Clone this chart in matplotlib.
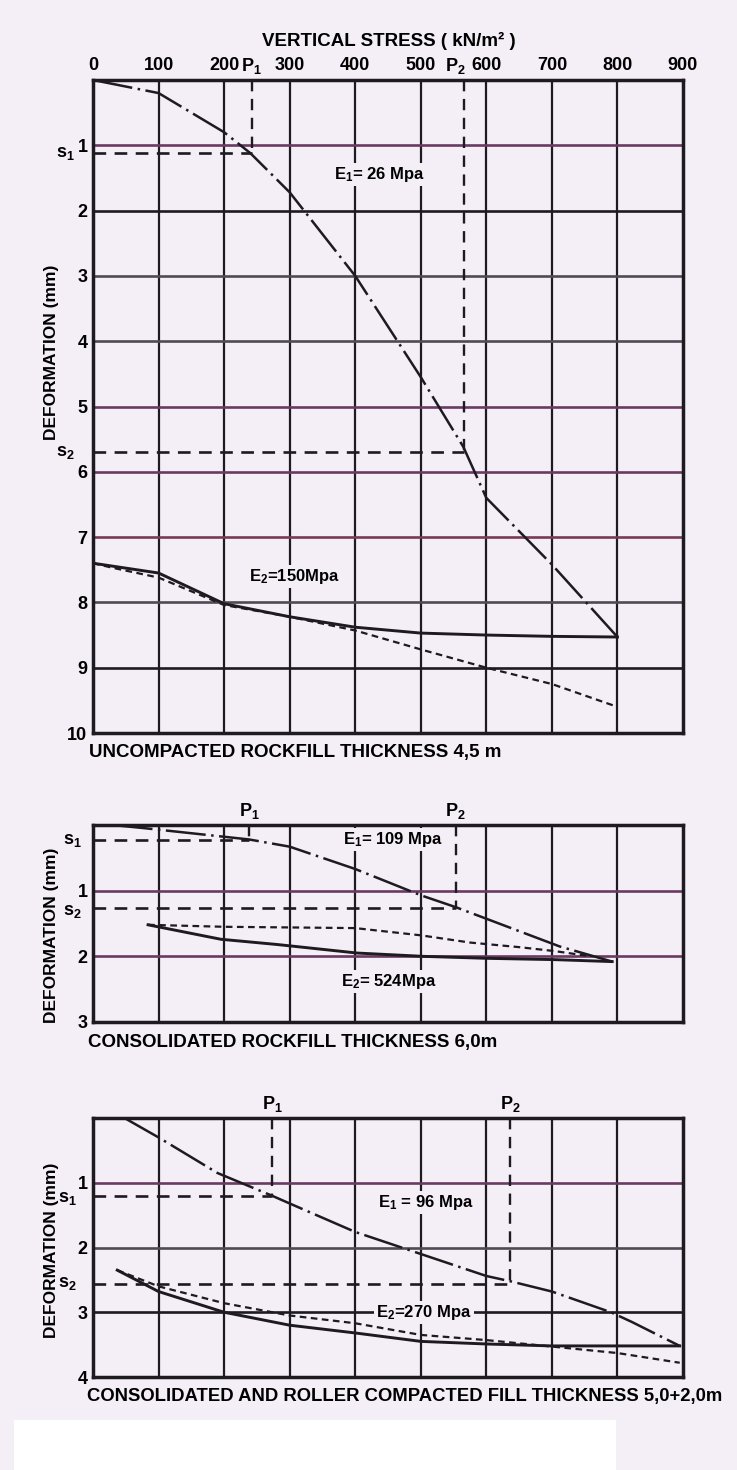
import matplotlib.pyplot as plt
from matplotlib.patches import Rectangle

plt.rcParams['font.family'] = ['Liberation Sans', 'DejaVu Sans']
plt.rcParams['font.weight'] = 'bold'
plt.rcParams['mathtext.fontset'] = 'custom'
plt.rcParams['mathtext.rm'] = 'Liberation Sans:bold'
plt.rcParams['mathtext.it'] = 'Liberation Sans:bold'
plt.rcParams['mathtext.bf'] = 'Liberation Sans:bold'

BG = '#f4eef6'
INK = '#1d1a20'
PURPLE = '#6a3a63'
GREY = '#4f4a55'

stress_ticks = [0, 100, 200, 300, 400, 500, 600, 700, 800, 900]

# --- uncompacted rockfill 4.5 m ---
a_load_x = [0, 100, 200, 240, 300, 400, 500, 565, 600, 700, 800]
a_load_y = [0, 0.2, 0.8, 1.12, 1.72, 3.0, 4.55, 5.62, 6.4, 7.42, 8.53]
a_unload_x = [0, 100, 200, 300, 400, 500, 600, 700, 800]
a_unload_y = [7.4, 7.55, 8.02, 8.22, 8.38, 8.47, 8.5, 8.52, 8.53]
a_reload_x = [0, 30, 100, 200, 300, 400, 500, 600, 700, 800]
a_reload_y = [7.4, 7.47, 7.62, 8.04, 8.22, 8.43, 8.72, 9.0, 9.25, 9.6]
a_p1, a_p2 = 242, 566
a_s1, a_s2 = 1.12, 5.70

# --- consolidated rockfill 6.0 m ---
b_load_x = [30, 80, 238, 300, 400, 500, 553, 712, 792]
b_load_y = [0.0, 0.05, 0.22, 0.33, 0.67, 1.07, 1.25, 1.85, 2.08]
b_unload_x = [84, 195, 281, 403, 503, 600, 704, 792]
b_unload_y = [1.52, 1.74, 1.82, 1.95, 2.0, 2.03, 2.05, 2.08]
b_reload_x = [84, 200, 300, 400, 500, 575, 650, 704, 760]
b_reload_y = [1.52, 1.55, 1.56, 1.57, 1.68, 1.79, 1.86, 1.92, 2.0]
b_p1, b_p2 = 238, 553
b_s1, b_s2 = 0.23, 1.27

# --- consolidated and roller compacted 5.0 + 2.0 m ---
c_load_x = [48, 100, 190, 273, 300, 400, 500, 600, 636, 700, 790, 822, 895]
c_load_y = [0.0, 0.3, 0.85, 1.2, 1.32, 1.76, 2.1, 2.44, 2.52, 2.68, 3.0, 3.15, 3.52]
c_unload_x = [37, 100, 200, 300, 400, 500, 600, 700, 800, 895]
c_unload_y = [2.35, 2.68, 3.0, 3.2, 3.32, 3.45, 3.49, 3.52, 3.52, 3.52]
c_reload_x = [37, 100, 200, 300, 400, 500, 600, 700, 800, 895]
c_reload_y = [2.35, 2.6, 2.86, 3.05, 3.17, 3.35, 3.43, 3.53, 3.63, 3.78]
c_p1, c_p2 = 273, 636
c_s1, c_s2 = 1.2, 2.56

W, H = 737, 1470


def rect(top, bottom, left=93, right=683):
    return [left / W, 1 - bottom / H, (right - left) / W, (bottom - top) / H]


def frame(ax, ymax, hcolors):
    ax.set_facecolor(BG)
    ax.set_xlim(0, 900)
    ax.set_ylim(ymax, 0)
    for sp in ax.spines.values():
        sp.set_linewidth(2.5)
        sp.set_color(INK)
    for x in stress_ticks[1:-1]:
        ax.axvline(x, color=INK, lw=1.6, zorder=1)
    for y, c in zip(range(1, ymax), hcolors):
        ax.axhline(y, color=c, lw=1.9, zorder=1)
    ax.set_yticks(range(1, ymax + 1))
    ax.set_yticklabels([str(v) for v in range(1, ymax + 1)], fontsize=13)
    ax.tick_params(length=0, pad=4)


def curves(ax, lx, ly, ux, uy, rx, ry):
    ax.plot(lx, ly, color=INK, lw=1.8, ls=(0, (16, 2.2, 1, 2.2)), zorder=4)
    ax.plot(ux, uy, color=INK, lw=2.1, zorder=4)
    ax.plot(rx, ry, color=INK, lw=1.6, ls=(0, (3, 2)), zorder=4)


def markers(ax, p1, p2, s1, s2, s_off, s_dy=(0, 0)):
    dash = (0, (4.8, 3.2))
    ax.plot([0, p1], [s1, s1], color=INK, lw=1.9, ls=dash, zorder=3)
    ax.plot([0, p2], [s2, s2], color=INK, lw=1.9, ls=dash, zorder=3)
    ax.plot([p1, p1], [0, s1], color=INK, lw=1.7, ls=dash, zorder=3)
    ax.plot([p2, p2], [0, s2], color=INK, lw=1.7, ls=dash, zorder=3)
    for s, lab, dy in [(s1, r's$_1$', s_dy[0]), (s2, r's$_2$', s_dy[1])]:
        ax.annotate(lab, xy=(0, s), xycoords=('axes fraction', 'data'),
                    xytext=(s_off, dy), textcoords='offset points',
                    ha='right', va='center', fontsize=13)


def p_labels(ax, p1, p2, off2=0):
    for p, lab, dx in [(p1, r'P$_1$', 0), (p2, r'P$_2$', off2)]:
        ax.annotate(lab, xy=(p, 0), xytext=(dx, 3), textcoords='offset points',
                    ha='center', va='bottom', fontsize=13)


def e_label(ax, x, y, txt):
    ax.text(x, y, txt, ha='left', va='center', fontsize=12, zorder=5,
            bbox=dict(facecolor=BG, edgecolor='none', pad=1.5))


fig = plt.figure(figsize=(W / 100, H / 100), dpi=100, facecolor=BG)

# panel 1
ax1 = fig.add_axes(rect(80, 733))
frame(ax1, 10, [PURPLE, INK, GREY, GREY, PURPLE, PURPLE, '#7a3a55', GREY, INK])
ax1.xaxis.tick_top()
ax1.set_xticks(stress_ticks)
ax1.set_xticklabels([str(v) for v in stress_ticks], fontsize=13)
curves(ax1, a_load_x, a_load_y, a_unload_x, a_unload_y, a_reload_x, a_reload_y)
markers(ax1, a_p1, a_p2, a_s1, a_s2, -13)
p_labels(ax1, a_p1, a_p2, off2=-6)
e_label(ax1, 368, 1.45, r'E$_1$= 26 Mpa')
e_label(ax1, 238, 7.6, r'E$_2$=150Mpa')

# panel 2
ax2 = fig.add_axes(rect(825, 1022))
frame(ax2, 3, [PURPLE, PURPLE])
ax2.set_xticks([])
curves(ax2, b_load_x, b_load_y, b_unload_x, b_unload_y, b_reload_x, b_reload_y)
markers(ax2, b_p1, b_p2, b_s1, b_s2, -8, s_dy=(0, -2))
p_labels(ax2, b_p1, b_p2)
e_label(ax2, 381, 0.22, r'E$_1$= 109 Mpa')
e_label(ax2, 378, 2.38, r'E$_2$= 524Mpa')

# panel 3
ax3 = fig.add_axes(rect(1118, 1377))
frame(ax3, 4, [PURPLE, GREY, INK])
ax3.set_xticks([])
curves(ax3, c_load_x, c_load_y, c_unload_x, c_unload_y, c_reload_x, c_reload_y)
markers(ax3, c_p1, c_p2, c_s1, c_s2, -12, s_dy=(-2, 0))
p_labels(ax3, c_p1, c_p2)
e_label(ax3, 435, 1.31, r'E$_1$ = 96 Mpa')
e_label(ax3, 432, 3.0, r'E$_2$=270 Mpa')

# axis titles
fig.text(389 / W, 1 - 41 / H, 'VERTICAL STRESS ( kN/m² )', ha='center', va='center', fontsize=13.5)
for yc in [352, 935, 1250]:
    fig.text(52 / W, 1 - yc / H, 'DEFORMATION (mm)', rotation=90, ha='center', va='center', fontsize=12.5)
fig.text(89 / W, 1 - 753 / H, 'UNCOMPACTED ROCKFILL THICKNESS 4,5 m', ha='left', va='center', fontsize=13.5)
fig.text(88 / W, 1 - 1043 / H, 'CONSOLIDATED ROCKFILL THICKNESS 6,0m', ha='left', va='center', fontsize=13.5)
fig.text(87 / W, 1 - 1397 / H, 'CONSOLIDATED AND ROLLER COMPACTED FILL THICKNESS 5,0+2,0m',
         ha='left', va='center', fontsize=13.3)

# blank strip at the bottom of the scan
fig.patches.append(Rectangle((14 / W, 0), 602 / W, 50 / H, transform=fig.transFigure,
                             facecolor='white', edgecolor='none', zorder=0))

fig.savefig('out.png', dpi=100, facecolor=BG)
